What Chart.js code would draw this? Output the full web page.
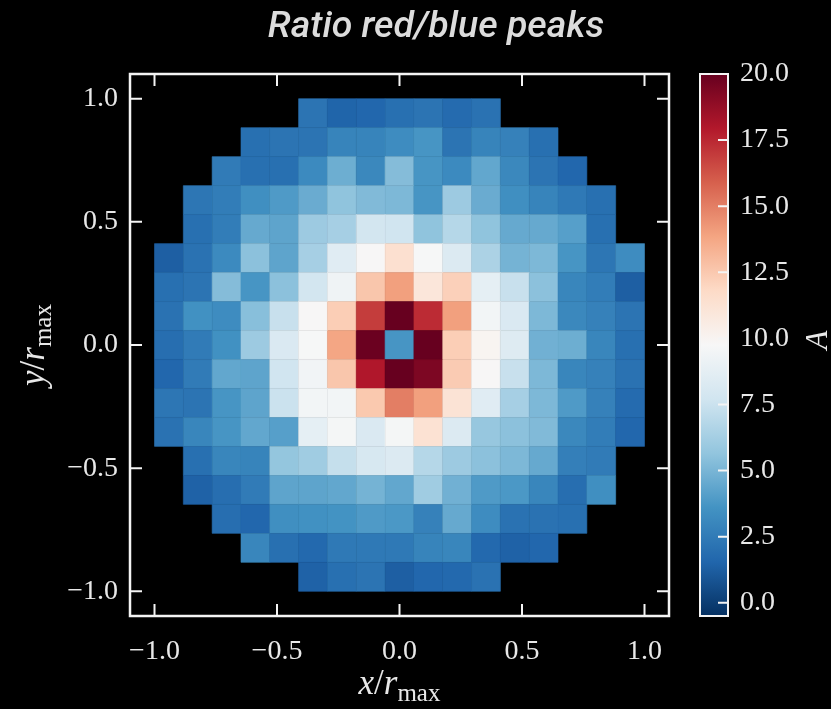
<!DOCTYPE html>
<html>
<head>
<meta charset="utf-8">
<title>Ratio red/blue peaks</title>
<script src="https://cdn.jsdelivr.net/npm/chart.js@4.4.1/dist/chart.umd.min.js"></script>
<style>
  html, body { margin: 0; padding: 0; background: #000; }
  #wrap { width: 831px; height: 709px; position: relative; }
  canvas { display: block; background: #000; }
</style>
</head>
<body>
<div id="wrap"><canvas id="ratioMap" width="831" height="709"></canvas></div>
<script>
// A on a 17 x 17 grid. Rows run from y = +1 (top) down to y = -1,
// columns from x = -1 to x = +1. null = outside r_max.
const row0  = [null, null, null, null, null, 2.2, 1.5, 1.6, 2.0, 2.2, 1.8, 2.1, null, null, null, null, null];
const row1  = [null, null, null, 2.0, 2.2, 2.2, 2.9, 2.9, 3.3, 3.7, 2.2, 2.9, 2.8, 2.0, null, null, null];
const row2  = [null, null, 2.5, 2.0, 2.0, 3.2, 4.7, 3.1, 5.3, 3.7, 3.2, 4.4, 3.1, 2.2, 1.6, null, null];
const row3  = [null, 2.3, 2.6, 3.4, 3.9, 4.6, 5.6, 5.2, 5.1, 3.7, 6.0, 4.6, 3.4, 2.9, 2.4, 2.0, null];
const row4  = [null, 2.0, 2.6, 4.5, 4.3, 6.0, 6.3, 7.8, 7.7, 5.6, 6.8, 5.6, 4.5, 4.5, 4.1, 2.0, null];
const row5  = [1.3, 2.1, 3.2, 5.5, 4.3, 6.3, 8.5, 9.8, 11.4, 9.7, 8.3, 6.5, 4.9, 5.1, 3.7, 2.3, 3.3];
const row6  = [2.0, 2.2, 5.3, 3.7, 5.5, 7.8, 9.3, 12.6, 14.0, 11.0, 12.2, 8.8, 7.4, 5.5, 3.0, 2.6, 1.3];
const row7  = [2.1, 3.5, 3.3, 5.4, 7.4, 9.8, 12.3, 16.9, 20.0, 17.4, 14.0, 9.5, 8.2, 5.1, 3.1, 2.8, 2.2];
const row8  = [1.9, 2.5, 3.5, 6.0, 8.2, 9.7, 13.8, 19.9, 3.7, 20.0, 12.3, 10.0, 8.4, 4.8, 4.7, 3.0, 2.0];
const row9  = [1.6, 2.5, 4.4, 4.3, 7.7, 9.4, 12.6, 18.0, 20.0, 19.4, 12.4, 9.8, 7.4, 5.1, 3.0, 2.8, 2.1];
const row10 = [2.3, 2.2, 3.7, 4.3, 7.5, 9.5, 9.5, 12.5, 15.0, 14.0, 11.2, 8.5, 6.3, 5.1, 3.9, 2.8, 1.8];
const row11 = [2.1, 3.0, 3.7, 4.4, 4.1, 8.8, 9.6, 8.2, 9.6, 11.3, 8.3, 5.8, 5.5, 5.2, 3.1, 2.6, 1.6];
const row12 = [null, 2.0, 3.0, 2.9, 5.7, 6.1, 7.3, 8.0, 8.3, 6.8, 6.0, 5.5, 5.1, 4.5, 2.7, 2.5, null];
const row13 = [null, 1.4, 1.9, 2.5, 4.3, 4.3, 4.4, 4.9, 4.4, 6.1, 4.8, 3.9, 3.8, 3.0, 1.9, 3.4, null];
const row14 = [null, null, 1.9, 1.6, 3.4, 3.5, 3.6, 3.9, 3.8, 2.8, 4.5, 3.3, 2.1, 2.1, 2.0, null, null];
const row15 = [null, null, null, 3.0, 2.0, 1.7, 2.4, 2.4, 2.4, 2.9, 3.0, 1.7, 1.4, 1.6, null, null, null];
const row16 = [null, null, null, null, null, 1.4, 2.0, 2.2, 1.3, 1.6, 1.7, 2.1, null, null, null, null, null];

const gridRows = [row0, row1, row2, row3, row4, row5, row6, row7, row8,
                  row9, row10, row11, row12, row13, row14, row15, row16];

const axisTicks = [-1.0, -0.5, 0.0, 0.5, 1.0];
const cbarTicks = [0.0, 2.5, 5.0, 7.5, 10.0, 12.5, 15.0, 17.5, 20.0];
const vMin = -0.5;
const vMax = 20.0;

// RdBu_r
const rdbuStops = ['#053061', '#2166ac', '#4393c3', '#92c5de', '#d1e5f0', '#f7f7f7',
                   '#fddbc7', '#f4a582', '#d6604d', '#b2182b', '#67001f'];

const serif = '"Liberation Serif", "DejaVu Serif", serif';
const textColour = '#e8e8e8';
const frameColour = '#f4f4f4';

function hexToRgb(h) {
  return [parseInt(h.slice(1, 3), 16), parseInt(h.slice(3, 5), 16), parseInt(h.slice(5, 7), 16)];
}
const stopRgb = rdbuStops.map(hexToRgb);

function colourFor(a) {
  let t = (a - vMin) / (vMax - vMin);
  t = Math.min(1, Math.max(0, t)) * (stopRgb.length - 1);
  const i = Math.min(Math.floor(t), stopRgb.length - 2);
  const f = t - i;
  const c0 = stopRgb[i], c1 = stopRgb[i + 1];
  const mix = k => Math.round(c0[k] + (c1[k] - c0[k]) * f);
  return `rgb(${mix(0)}, ${mix(1)}, ${mix(2)})`;
}

const nCells = gridRows.length;
const cellSize = 2 / nCells;
const cells = [];
gridRows.forEach((row, j) => {
  row.forEach((a, i) => {
    if (a === null) return;
    cells.push({ x: -1 + (i + 0.5) * cellSize, y: 1 - (j + 0.5) * cellSize, a: a });
  });
});

// 'rect' point style draws a square of half-side radius * SQRT1_2
function cellRadius(chart) {
  const xs = chart.scales.x;
  if (!xs) return 10;
  const half = Math.abs(xs.getPixelForValue(cellSize) - xs.getPixelForValue(0)) / 2;
  return half / Math.SQRT1_2;
}

function fmt(v) {
  return (v < 0 ? '\u2212' : '') + Math.abs(v).toFixed(1);
}

// x/r_max style label: italic symbol, slash, italic r, upright subscript
function drawRatioLabel(ctx, sym, cx, baseY) {
  const pieces = [
    { text: sym, font: `italic 35px ${serif}`, dy: 0 },
    { text: '/', font: `35px ${serif}`, dy: 0 },
    { text: 'r', font: `italic 35px ${serif}`, dy: 0 },
    { text: 'max', font: `25px ${serif}`, dy: 7 }
  ];
  let total = 0;
  pieces.forEach(p => { ctx.font = p.font; p.w = ctx.measureText(p.text).width; total += p.w; });
  let xx = cx - total / 2;
  ctx.textAlign = 'left';
  ctx.textBaseline = 'alphabetic';
  pieces.forEach(p => { ctx.font = p.font; ctx.fillText(p.text, xx, baseY + p.dy); xx += p.w; });
}

const decorations = {
  id: 'decorations',
  afterDraw(chart) {
    const { ctx, chartArea: area, scales } = chart;
    const xs = scales.x, ys = scales.y, cb = scales.cb;
    const tickLen = 12;
    ctx.save();

    // axes frame with inward ticks
    ctx.strokeStyle = frameColour;
    ctx.lineWidth = 2.5;
    ctx.strokeRect(area.left, area.top, area.right - area.left, area.bottom - area.top);
    ctx.lineWidth = 2;
    ctx.beginPath();
    axisTicks.forEach(v => {
      const px = xs.getPixelForValue(v), py = ys.getPixelForValue(v);
      ctx.moveTo(px, area.bottom); ctx.lineTo(px, area.bottom - tickLen);
      ctx.moveTo(px, area.top); ctx.lineTo(px, area.top + tickLen);
      ctx.moveTo(area.left, py); ctx.lineTo(area.left + tickLen, py);
      ctx.moveTo(area.right, py); ctx.lineTo(area.right - tickLen, py);
    });
    ctx.stroke();

    // colour bar
    const barL = cb.left + 31, barW = 28;
    const yLo = cb.getPixelForValue(vMin), yHi = cb.getPixelForValue(vMax);
    const grad = ctx.createLinearGradient(0, yLo, 0, yHi);
    rdbuStops.forEach((c, k) => grad.addColorStop(k / (rdbuStops.length - 1), c));
    ctx.fillStyle = grad;
    ctx.fillRect(barL, yHi, barW, yLo - yHi);
    ctx.lineWidth = 2;
    ctx.strokeRect(barL, yHi, barW, yLo - yHi);
    ctx.beginPath();
    cbarTicks.forEach(v => {
      const py = cb.getPixelForValue(v);
      ctx.moveTo(barL + barW, py); ctx.lineTo(barL + barW - 10, py);
    });
    ctx.stroke();

    // axis titles
    ctx.fillStyle = textColour;
    drawRatioLabel(ctx, 'x', (area.left + area.right) / 2, 694);
    ctx.save();
    ctx.translate(44, (area.top + area.bottom) / 2);
    ctx.rotate(-Math.PI / 2);
    drawRatioLabel(ctx, 'y', 0, 0);
    ctx.restore();
    ctx.save();
    ctx.translate(827, 340);
    ctx.rotate(-Math.PI / 2);
    ctx.font = `italic 31px ${serif}`;
    ctx.textAlign = 'center';
    ctx.textBaseline = 'alphabetic';
    ctx.fillText('A', 0, 0);
    ctx.restore();

    // title
    ctx.fillStyle = '#dcdcdc';
    ctx.font = 'italic 500 37.5px Roboto';
    ctx.textAlign = 'center';
    ctx.textBaseline = 'alphabetic';
    ctx.fillText('Ratio red/blue peaks', 436, 37);
    ctx.restore();
  }
};

const tickFont = { family: serif, size: 28 };

new Chart(document.getElementById('ratioMap'), {
  type: 'scatter',
  data: {
    datasets: [{
      data: cells,
      pointStyle: 'rect',
      radius: ctx => cellRadius(ctx.chart),
      hoverRadius: ctx => cellRadius(ctx.chart),
      backgroundColor: ctx => (ctx.raw ? colourFor(ctx.raw.a) : 'transparent'),
      borderColor: ctx => (ctx.raw ? colourFor(ctx.raw.a) : 'transparent'),
      borderWidth: 0.6
    }]
  },
  options: {
    responsive: false,
    animation: false,
    events: [],
    layout: { padding: { top: 74, right: 0, bottom: 0, left: 0 } },
    plugins: {
      legend: { display: false },
      tooltip: { enabled: false },
      title: { display: false }
    },
    scales: {
      x: {
        type: 'linear',
        position: 'bottom',
        min: -1.1,
        max: 1.1,
        afterBuildTicks: s => { s.ticks = axisTicks.map(v => ({ value: v })); },
        afterFit: s => { s.height = 93; s.paddingLeft = 0; s.paddingRight = 0; },
        grid: { display: false, drawTicks: false },
        border: { display: false },
        ticks: { callback: v => fmt(v), color: textColour, font: tickFont, padding: 19, maxRotation: 0 }
      },
      y: {
        type: 'linear',
        position: 'left',
        min: -1.1,
        max: 1.1,
        afterBuildTicks: s => { s.ticks = axisTicks.map(v => ({ value: v })); },
        afterFit: s => { s.width = 130; s.paddingTop = 0; s.paddingBottom = 0; },
        grid: { display: false, drawTicks: false },
        border: { display: false },
        ticks: { callback: v => fmt(v), color: textColour, font: tickFont, padding: 12 }
      },
      cb: {
        type: 'linear',
        axis: 'y',
        position: 'right',
        min: vMin,
        max: vMax,
        afterBuildTicks: s => { s.ticks = cbarTicks.map(v => ({ value: v })); },
        afterFit: s => { s.width = 162; s.paddingTop = 0; s.paddingBottom = 0; },
        grid: { display: false, drawTicks: false },
        border: { display: false },
        ticks: { callback: v => v.toFixed(1), color: textColour, font: tickFont, padding: 71 }
      }
    }
  },
  plugins: [decorations]
});
</script>
</body>
</html>
